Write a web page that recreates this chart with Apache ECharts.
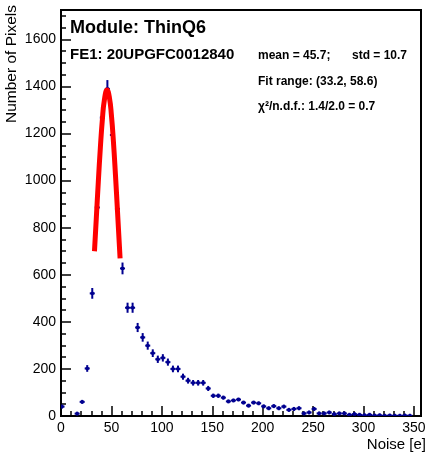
<!doctype html>
<html>
<head>
<meta charset="utf-8">
<title>Noise</title>
<script src="https://cdn.jsdelivr.net/npm/echarts@6/dist/echarts.min.js"></script>
<style>
  html, body { margin: 0; padding: 0; background: #fff; }
  #main { width: 431px; height: 453px; }
</style>
</head>
<body>
<div id="main"></div>
<script>
// bin centres [e] and pixel counts
var binX = [1, 6, 11, 16, 21, 26, 31, 36, 41, 46, 51, 56, 61, 66, 71, 76, 81, 86, 91, 96,
  101, 106, 111, 116, 121, 126, 131, 136, 141, 146, 151, 156, 161, 166, 171, 176, 181, 186, 191, 196,
  201, 206, 211, 216, 221, 226, 231, 236, 241, 246, 251, 256, 261, 266, 271, 276, 281, 286, 291, 296,
  301, 306, 311, 316, 321, 326, 331, 336, 341, 346];
var counts = [40, null, null, 10, 60, 202, 521, 886, 1268, 1390, 1194, 880, 627, 460, 460, 376, 334, 299, 267, 241,
  247, 229, 200, 200, 167, 150, 141, 141, 141, 117, 86, 86, 78, 62, 66, 70, 57, 44, 57, 54,
  41, 33, 42, 33, 40, 26, 30, 33, 11, 15, 30, 11, 11, 15, 8, 11, 11, 5, 8, 5,
  3, 5, 2, 3, 1, 2, 1, 1, 2, 1];
var halfBin = 2.5;

// gaussian fit
var fitX = [33.2, 35, 37, 39, 41, 43, 45.7, 48, 50, 52, 54, 56, 58.6];
var fitY = [700, 840, 995, 1138, 1258, 1342, 1385, 1353, 1278, 1165, 1025, 872, 670];

// ticks
var xMajor = [0, 50, 100, 150, 200, 250, 300, 350];
var xMinor = [10, 20, 30, 40, 60, 70, 80, 90, 110, 120, 130, 140, 160, 170, 180, 190, 210, 220, 230, 240,
  260, 270, 280, 290, 310, 320, 330, 340];
var yMajor = [0, 200, 400, 600, 800, 1000, 1200, 1400, 1600];
var yMinor = [50, 100, 150, 250, 300, 350, 450, 500, 550, 650, 700, 750, 850, 900, 950, 1050, 1100, 1150,
  1250, 1300, 1350, 1450, 1500, 1550, 1650, 1700];

var FONT = "'Liberation Sans', Arial, sans-serif";
var PT = '#000090';

var points = [];
for (var i = 0; i < binX.length; i++) {
  if (counts[i] == null) continue;
  points.push([binX[i], counts[i], Math.sqrt(counts[i])]);
}
var fitData = [];
for (var j = 0; j < fitX.length; j++) fitData.push([fitX[j], fitY[j]]);

function renderPoint(params, api) {
  var x = api.value(0), y = api.value(1), e = api.value(2);
  var c = api.coord([x, y]);
  var t = api.coord([x, y + e]);
  var b = api.coord([x, y - e]);
  var l = api.coord([x - halfBin, y]);
  var r = api.coord([x + halfBin, y]);
  var st = { stroke: PT, lineWidth: 2 };
  return {
    type: 'group',
    children: [
      { type: 'line', shape: { x1: c[0], y1: Math.min(t[1], c[1] - 2), x2: c[0], y2: Math.max(b[1], c[1] + 2) }, style: st },
      { type: 'line', shape: { x1: l[0], y1: c[1], x2: r[0], y2: c[1] }, style: st },
      { type: 'rect', shape: { x: c[0] - 1.5, y: c[1] - 1.5, width: 3, height: 3 }, style: { fill: PT } }
    ]
  };
}

function plain(v) { return String(v); }

function axisBase(min, max) {
  return {
    type: 'value', min: min, max: max,
    splitLine: { show: false },
    axisLine: { show: true, onZero: false, lineStyle: { color: '#000', width: 2 } }
  };
}

var xMain = axisBase(0, 357);
xMain.axisTick = { inside: true, length: 10, customValues: xMajor, lineStyle: { color: '#000', width: 1.5 } };
xMain.axisLabel = { customValues: xMajor, formatter: plain, margin: 5, color: '#000', fontSize: 14, fontFamily: FONT };
var xSub = axisBase(0, 357);
xSub.axisLine.show = false;
xSub.axisTick = { inside: true, length: 5, customValues: xMinor, lineStyle: { color: '#000', width: 1.5 } };
xSub.axisLabel = { show: false };
xSub.position = 'bottom';

var yMain = axisBase(0, 1725);
yMain.axisTick = { inside: true, length: 10, customValues: yMajor, lineStyle: { color: '#000', width: 1.5 } };
yMain.axisLabel = { customValues: yMajor, formatter: plain, margin: 5, color: '#000', fontSize: 14, fontFamily: FONT };
var ySub = axisBase(0, 1725);
ySub.axisLine.show = false;
ySub.axisTick = { inside: true, length: 5, customValues: yMinor, lineStyle: { color: '#000', width: 1.5 } };
ySub.axisLabel = { show: false };
ySub.position = 'left';

var myChart = echarts.init(document.getElementById('main'));
var option = {
  animation: false,
  backgroundColor: '#fff',
  grid: { left: 61, right: 10, top: 10, bottom: 37, show: true, borderColor: '#000', borderWidth: 2 },
  xAxis: [xMain, xSub],
  yAxis: [yMain, ySub],
  series: [
    {
      type: 'custom', clip: true,
      renderItem: renderPoint,
      data: points,
      z: 2
    },
    {
      type: 'line', data: fitData, smooth: true, showSymbol: false,
      lineStyle: { color: '#ff0000', width: 5 },
      z: 3
    }
  ],
  graphic: [
    { type: 'text', x: 70, y: 28, style: { text: 'Module: ThinQ6', fontSize: 18, fontWeight: 'bold', fontFamily: FONT, fill: '#000', verticalAlign: 'middle' } },
    { type: 'text', x: 70, y: 55, style: { text: 'FE1: 20UPGFC0012840', fontSize: 15, fontWeight: 'bold', fontFamily: FONT, fill: '#000', verticalAlign: 'middle' } },
    { type: 'text', x: 258, y: 56, style: { text: 'mean = 45.7;', fontSize: 12, fontWeight: 'bold', fontFamily: FONT, fill: '#000', verticalAlign: 'middle' } },
    { type: 'text', x: 352, y: 56, style: { text: 'std = 10.7', fontSize: 12, fontWeight: 'bold', fontFamily: FONT, fill: '#000', verticalAlign: 'middle' } },
    { type: 'text', x: 258, y: 82, style: { text: 'Fit range: (33.2, 58.6)', fontSize: 12, fontWeight: 'bold', fontFamily: FONT, fill: '#000', verticalAlign: 'middle' } },
    { type: 'text', x: 258, y: 107, style: { text: 'χ²/n.d.f.: 1.4/2.0 = 0.7', fontSize: 12, fontWeight: 'bold', fontFamily: FONT, fill: '#000', verticalAlign: 'middle' } },
    { type: 'text', x: 12, y: 5, rotation: Math.PI / 2, style: { text: 'Number of Pixels', fontSize: 15.5, fontFamily: FONT, fill: '#000', align: 'right', verticalAlign: 'middle' } },
    { type: 'text', x: 426, y: 445, style: { text: 'Noise [e]', fontSize: 15, fontFamily: FONT, fill: '#000', align: 'right', verticalAlign: 'middle' } }
  ]
};
myChart.setOption(option);
</script>
</body>
</html>
